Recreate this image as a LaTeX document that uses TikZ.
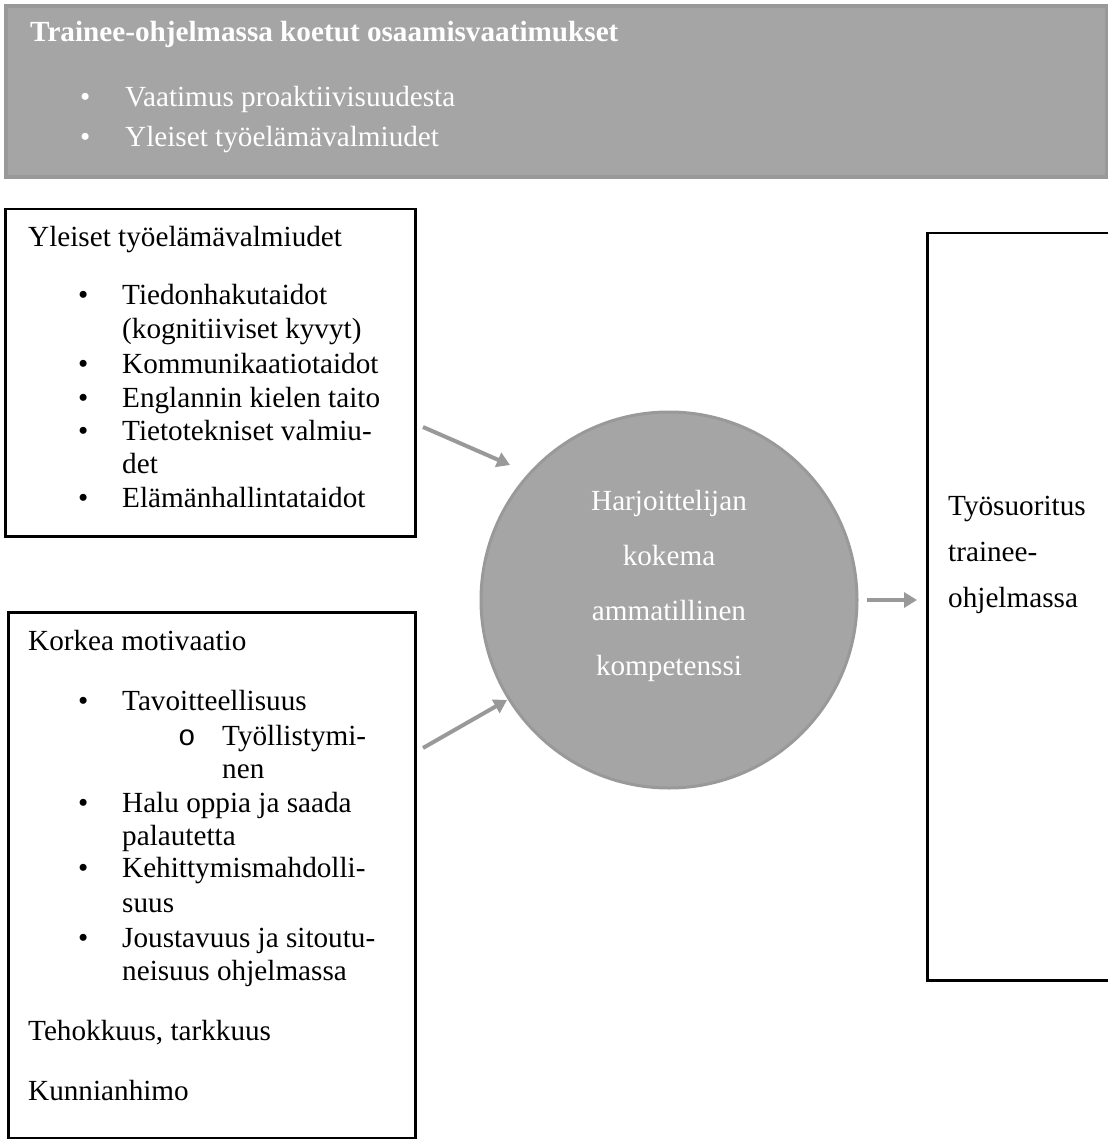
\documentclass[tikz,border=0pt]{standalone}
\usepackage{fontspec}
\setmainfont{Liberation Serif}
\newfontfamily\monofont{Liberation Mono}
\usetikzlibrary{arrows.meta}
\definecolor{boxgray}{HTML}{A5A5A5}
\definecolor{edgegray}{HTML}{999999}
\begin{document}
\begin{tikzpicture}[
    x=1pt, y=-1pt,
    txt/.style={anchor=base west, inner sep=0pt, font=\fontsize{29.2}{33.7}\selectfont},
    wtxt/.style={txt, text=white},
    ctxt/.style={wtxt, anchor=base},
    frame/.style={draw=black, line width=2.5pt, anchor=north west, inner sep=0pt},
    banner/.style={fill=boxgray, draw=edgegray, line width=4pt, anchor=north west, inner sep=0pt},
    flow/.style={draw=edgegray, line width=4pt, -{Triangle[length=13pt,width=15pt]}},
  ]
  \useasboundingbox (0,0) rectangle (1107,1139);
  \fill[white] (0,0) rectangle (1107,1139);

  % Banner on top
  \node[banner, minimum width=1101pt, minimum height=171pt] (req) at (4,4) {};
  \node[wtxt, font=\fontsize{29.2}{33.7}\selectfont\bfseries] (reqtitle) at (30,42) {Trainee-ohjelmassa koetut osaamisvaatimukset};
  \node[wtxt] (reqdot1) at (80,107) {•};
  \node[wtxt] (reqdot2) at (80,147) {•};
  \node[wtxt] (req1) at (125,107) {Vaatimus proaktiivisuudesta};
  \node[wtxt] (req2) at (125,147) {Yleiset työelämävalmiudet};

  % Left boxes
  \node[frame, minimum width=410pt, minimum height=327pt] (skills) at (4,208) {};
  \node[frame, minimum width=407pt, minimum height=526pt] (motiv) at (7,611) {};

  % Box 1: general skills
  \node[txt] (skillstitle) at (28,247) {Yleiset työelämävalmiudet};
  \foreach \y in {305,373,407,440,507} {
    \node[txt] (sdot\y) at (78,\y) {•};
  }
  \node[txt] (s1) at (122,305) {Tiedonhakutaidot};
  \node[txt] (s1b) at (122,338) {(kognitiiviset kyvyt)};
  \node[txt] (s2) at (122,373) {Kommunikaatiotaidot};
  \node[txt] (s3) at (122,407) {Englannin kielen taito};
  \node[txt] (s4) at (122,440) {Tietotekniset valmiu-};
  \node[txt] (s4b) at (122,473) {det};
  \node[txt] (s5) at (122,507) {Elämänhallintataidot};

  % Box 2: motivation
  \node[txt] (motivtitle) at (28,650) {Korkea motivaatio};
  \foreach \y in {710,812,877,947} {
    \node[txt] (mdot\y) at (78,\y) {•};
  }
  \node[txt, font=\fontsize{29.2}{33.7}\monofont] (msub) at (178,745) {o};
  \node[txt] (m1) at (122,710) {Tavoitteellisuus};
  \node[txt] (m1a) at (222,745) {Työllistymi-};
  \node[txt] (m1b) at (222,778) {nen};
  \node[txt] (m2) at (122,812) {Halu oppia ja saada};
  \node[txt] (m2b) at (122,845) {palautetta};
  \node[txt] (m3) at (122,877) {Kehittymismahdolli-};
  \node[txt] (m3b) at (122,912) {suus};
  \node[txt] (m4) at (122,947) {Joustavuus ja sitoutu-};
  \node[txt] (m4b) at (122,980) {neisuus ohjelmassa};
  \node[txt] (m5) at (28,1040) {Tehokkuus, tarkkuus};
  \node[txt] (m6) at (28,1100) {Kunnianhimo};

  % Centre circle
  \node[circle, fill=boxgray, draw=edgegray, line width=3pt, minimum size=376pt, inner sep=0pt] (comp) at (669,600) {};
  \node[ctxt] (c1) at (669,510) {Harjoittelijan};
  \node[ctxt] (c2) at (669,565) {kokema};
  \node[ctxt] (c3) at (669,620) {ammatillinen};
  \node[ctxt] (c4) at (669,675) {kompetenssi};

  % Right box, runs off the page
  \node[frame, minimum width=240pt, minimum height=747pt] (perf) at (926,232) {};
  \node[txt] (p1) at (948,515) {Työsuoritus};
  \node[txt] (p2) at (948,561) {trainee-};
  \node[txt] (p3) at (948,607) {ohjelmassa};

  % Arrows
  \coordinate (a1s) at (423,427);
  \coordinate (a1e) at (510,465);
  \coordinate (a2s) at (423,748);
  \coordinate (a2e) at (507,700);
  \coordinate (a3s) at (867,600);
  \coordinate (a3e) at (917,600);
  \draw[flow] (a1s) -- (a1e);
  \draw[flow] (a2s) -- (a2e);
  \draw[flow] (a3s) -- (a3e);
\end{tikzpicture}
\end{document}
